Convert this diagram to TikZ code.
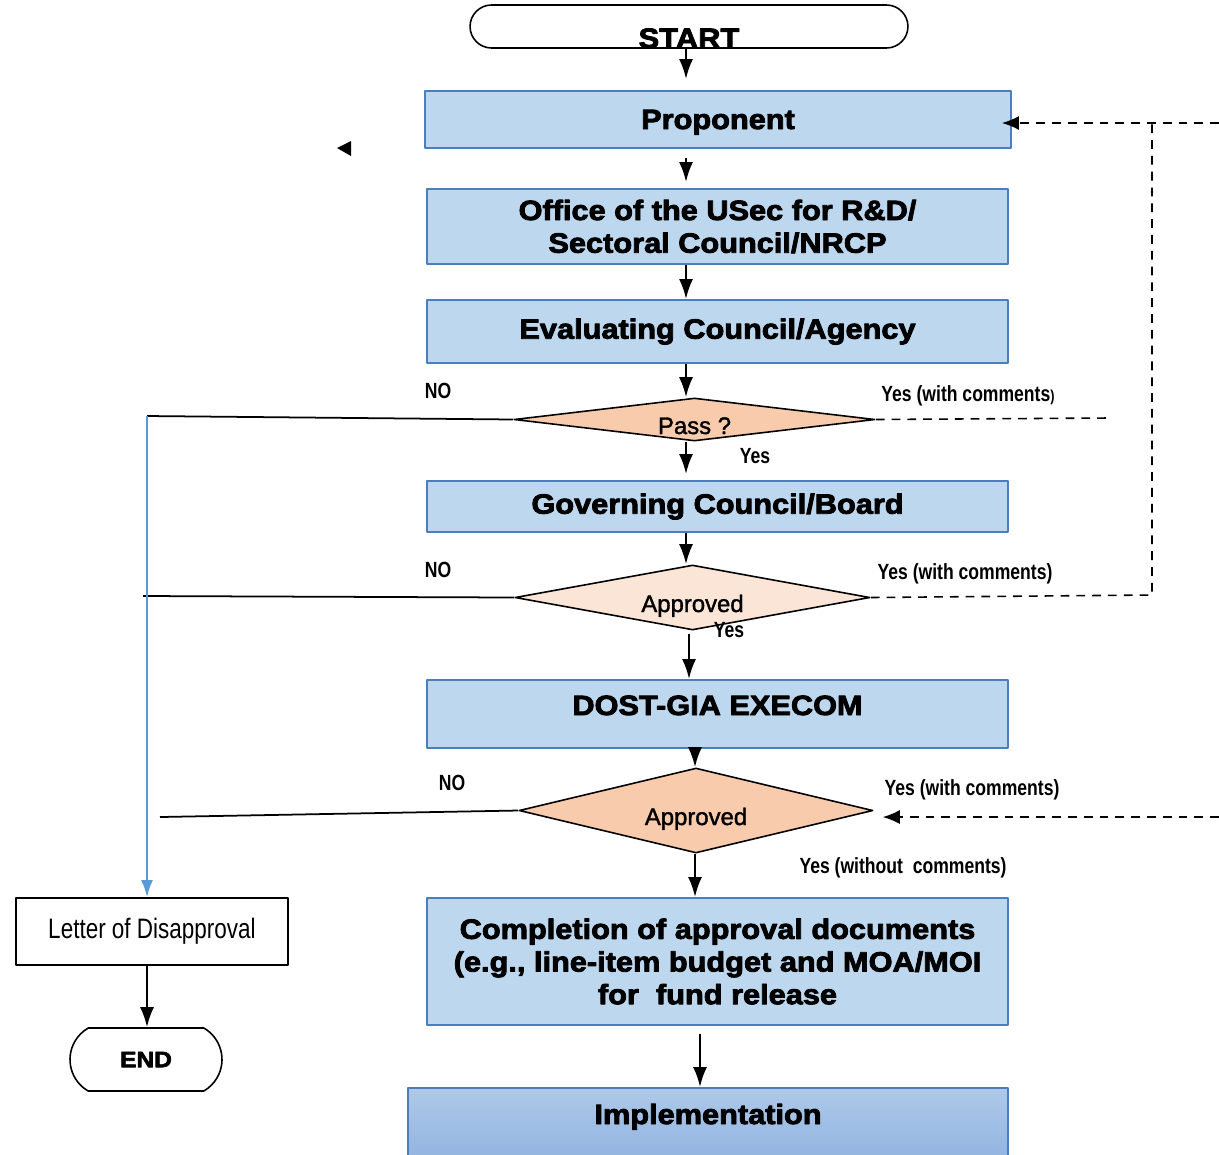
\documentclass[tikz,border=0pt]{standalone}
\usepackage{fontspec}
\setmainfont{Liberation Sans}
\newfontfamily\widefont[FakeStretch=1.1,BoldFeatures={FakeBold=3}]{Liberation Sans}
\newfontfamily\narrowfont[FakeStretch=0.8]{Liberation Sans}
\newfontfamily\medfont[FakeBold=1.5]{Liberation Sans}
\usetikzlibrary{shapes.geometric,shapes.misc,arrows.meta,calc}

\definecolor{boxfill}{HTML}{BDD7EE}
\definecolor{boxline}{HTML}{4A7EBF}
\definecolor{dfill}{HTML}{F8CBAD}
\definecolor{dlight}{HTML}{FBE5D6}
\definecolor{noline}{HTML}{5B9BD5}
\definecolor{imptop}{HTML}{AEC9E9}
\definecolor{impbot}{HTML}{93B5E1}

\begin{document}
\begin{tikzpicture}[x=0.02cm,y=-0.02cm,line join=round,
  box/.style={draw=boxline,line width=1.1pt,fill=boxfill,inner sep=0pt,align=center,
    font=\widefont\bfseries\fontsize{15.9}{18.6}\selectfont,minimum width=11.62cm},
  dec/.style={diamond,draw,line width=0.9pt,inner sep=0pt,aspect=6,
    text height=0.58cm,text depth=0pt,font=\medfont\fontsize{13.6}{16}\selectfont},
  term/.style={rounded rectangle,draw,line width=0.9pt,inner sep=0pt,
    font=\widefont\bfseries},
  lab/.style={font=\narrowfont\bfseries\fontsize{12.5}{15}\selectfont},
  arr/.style={line width=1.3pt,-{Latex[length=0.4cm,width=0.28cm]}},
  dline/.style={dashed,line width=0.9pt,dash pattern=on 5pt off 4pt}]

\useasboundingbox (0,0) rectangle (1219,1154);

\coordinate (c1) at (686,0);
\coordinate (c2) at (689,0);
\coordinate (c3) at (695,0);
\coordinate (c4) at (700,0);
\coordinate (c5) at (147,0);

\node[term,minimum width=8.76cm,minimum height=0.86cm,text height=0.86cm,text depth=0pt,
  font=\widefont\bfseries\fontsize{16}{18}\selectfont] (start) at (689,26.5) {START};
\node[box,minimum width=11.72cm,minimum height=1.14cm,text height=0.42cm,text depth=0.04cm]
  (prop) at (718,119.5) {Proponent};
\node[box,minimum height=1.5cm] (usec) at (717.5,226.5)
  {Office of the USec for R\&D/\\Sectoral Council/NRCP};
\node[box,minimum height=1.26cm] (eval) at (717.5,331.5) {Evaluating Council/Agency};
\node[dec,fill=dfill,minimum width=7.22cm,minimum height=0.86cm] (pass) at (694.5,419.5) {Pass ?};
\node[box,minimum height=1.02cm] (gov) at (717.5,506.5) {Governing Council/Board};
\node[dec,fill=dlight,minimum width=7.1cm,minimum height=1.3cm] (appr) at (692.5,597.5) {Approved};
\node[box,minimum height=1.36cm,text height=0.4cm,text depth=0.36cm] (dost) at (717.5,714)
  {DOST-GIA EXECOM};
\node[dec,fill=dfill,minimum width=7.08cm,minimum height=1.7cm] (appr2) at (696,810.5) {Approved};
\node[box,minimum height=2.54cm] (compl) at (717.5,961.5)
  {Completion of approval documents\\(e.g., line-item budget and MOA/MOI\\for~~fund release};
\node[box,minimum width=12cm,minimum height=1.36cm,top color=imptop,bottom color=impbot,
  text height=0.4cm,text depth=0.32cm] (impl) at (708,1122) {Implementation};

\node[draw,line width=1pt,minimum width=5.44cm,minimum height=1.34cm,inner sep=0pt,
  font=\narrowfont\fontsize{16}{19}\selectfont] (letter) at (152,931.5) {Letter of Disapproval};
\node[term,minimum width=3.04cm,minimum height=1.26cm,rounded rectangle arc length=120,
  font=\widefont\bfseries\fontsize{12.7}{15}\selectfont] (stop) at (146,1059.5) {END};

\node[lab] (no1) at (438,391) {NO};
\node[lab] (no2) at (438,570) {NO};
\node[lab] (no3) at (452,783) {NO};
\node[lab] (ywc1) at (968,396) {Yes (with comments{\fontsize{9}{10}\selectfont)}};
\node[lab] (ywc2) at (965,574) {Yes (with comments)};
\node[lab] (ywc3) at (972,790) {Yes (with comments)};
\node[lab] (yes1) at (755,456) {Yes};
\node[lab] (yes2) at (729,630) {Yes};
\node[lab] (ywo) at (903,868) {Yes (without~~comments)};

\fill (337,148) -- (351,141) -- (351,156) -- cycle;

\draw[arr,shorten >=0.22cm] (start.south -| c1) -- (prop.north -| c1);
\draw[arr,shorten <=0.18cm,shorten >=0.12cm] (prop.south -| c1) -- (usec.north -| c1);
\draw[arr] (usec.south -| c1) -- (eval.north -| c1);
\draw[arr] (eval.south -| c1) -- (pass.north -| c1);
\draw[arr,shorten >=0.12cm] (pass.south -| c1) -- (gov.north -| c1);
\draw[arr] (gov.south -| c1) -- (appr.north -| c1);
\draw[arr,shorten <=0.06cm] (appr.south -| c2) -- (dost.north -| c2);
\draw[arr] (dost.south -| c3) -- (appr2.north -| c3);
\draw[arr] (appr2.south -| c3) -- (compl.north -| c3);
\draw[arr,shorten <=0.16cm] (compl.south -| c4) -- (impl.north -| c4);
\draw[arr] (letter.south -| c5) -- (stop.north -| c5);

\coordinate (n1) at (147,416);
\coordinate (n2) at (143,596);
\coordinate (n3) at (160,817);
\draw[line width=1pt] (pass.west) -- (n1);
\draw[line width=1pt] (appr.west) -- (n2);
\draw[line width=1pt] (appr2.west) -- (n3);
\draw[line width=1.2pt,noline,-{Latex[length=0.34cm,width=0.24cm]}] (n1) -- (letter.north -| n1);

\coordinate (d1) at (1108,418);
\coordinate (d2) at (1152,595);
\coordinate (d3) at (1219,123);
\coordinate (d4) at (1219,817);
\draw[dline] (pass.east) -- (d1);
\draw[dline] (appr.east) -- (d2) -- (d2 |- d3);
\draw[dline,-{Latex[length=0.34cm,width=0.28cm]},shorten >=-0.2cm] (d3) -- (d3 -| prop.east);
\draw[dline,-{Latex[length=0.34cm,width=0.28cm]},shorten >=0.18cm] (d4) -- (d4 -| appr2.east);
\end{tikzpicture}
\end{document}
